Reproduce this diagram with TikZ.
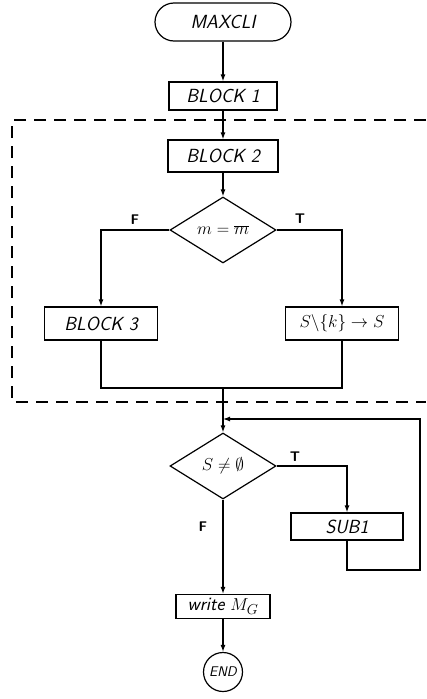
\documentclass[tikz,border=0pt]{standalone}
\usetikzlibrary{shapes.geometric,arrows.meta}
\begin{document}
\begin{tikzpicture}[x=1pt,y=-1pt,line width=1.2pt,
  txt/.style={font=\fontsize{19}{22}\selectfont\sffamily\itshape},
  box/.style={draw,rectangle,inner sep=0pt,txt},
  term/.style={draw,rectangle,rounded corners=19pt,inner sep=0pt,txt,minimum width=136pt,minimum height=38pt},
  decision/.style={draw,diamond,inner sep=0pt,minimum width=106pt,minimum height=66pt,txt},
  endc/.style={draw,circle,inner sep=0pt,minimum size=39pt,font=\fontsize{14}{16}\selectfont\sffamily\itshape},
  lbl/.style={font=\fontsize{14}{16}\selectfont\sffamily\bfseries,inner sep=0pt},
  arr/.style={-{Latex[length=7pt,width=5pt]}},
  grp/.style={dash pattern=on 12pt off 8pt,line width=1.2pt}]
\useasboundingbox (0,0) rectangle (426,699);
% dashed group
\draw[grp] (426,120) -- (12,120) -- (12,402) -- (426,402);
% nodes
\node[term] (maxcli) at (223,22) {MAXCLI};
\node[box,minimum width=108pt,minimum height=28pt] (b1) at (223,96) {BLOCK 1};
\node[box,minimum width=110pt,minimum height=32pt] (b2) at (223,156) {BLOCK 2};
\node[decision] (d1) at (223,230) {$m=\overline{m}$};
\node[box,minimum width=113pt,minimum height=33pt] (b3) at (101,323.5) {BLOCK 3};
\node[box,minimum width=113pt,minimum height=33pt] (sk) at (342,323.5) {$S\backslash\{k\}\to S$};
\coordinate (join) at (223,388);
\coordinate (merge) at (223,419);
\node[decision] (d2) at (223,466) {$S\neq\emptyset$};
\node[box,minimum width=112pt,minimum height=27pt] (sub1) at (347,526.5) {SUB1};
\coordinate (loopbr) at (420,570);
\coordinate (looptr) at (420,419);
\node[box,minimum width=94pt,minimum height=24pt] (write) at (223,606.5) {write $M_G$};
\node[endc] (end) at (223,672) {END};
% labels
\node[lbl] (f1) at (135,220) {F};
\node[lbl] (t1) at (300,219) {T};
\node[lbl] (t2) at (295,457) {T};
\node[lbl] (f2) at (203,527) {F};
% connectors
\draw[arr] (maxcli) -- (b1);
\draw[arr] (b1) -- (b2);
\draw[arr] (b2) -- (d1);
\draw[arr] (d1.west) -| (b3);
\draw[arr] (d1.east) -| (sk);
\draw (b3.south) |- (join);
\draw (sk.south) |- (join);
\draw[arr] (join) -- (d2);
\draw[arr] (d2.east) -| (sub1);
\draw[arr] (sub1.south) |- (loopbr) -- (looptr) -- (merge);
\draw[arr] (d2.south) -- (write);
\draw[arr] (write) -- (end);
\end{tikzpicture}
\end{document}
